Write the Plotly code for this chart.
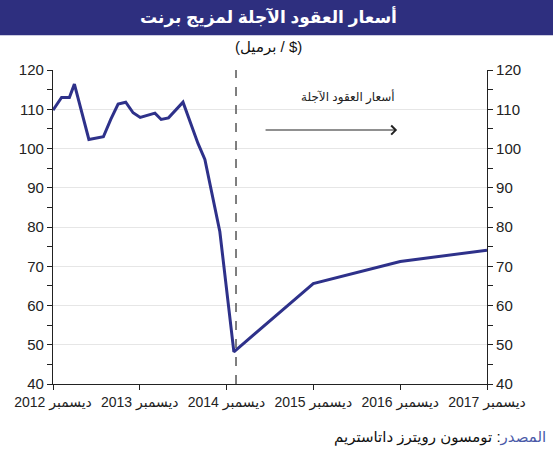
import plotly.graph_objects as go

# ---- data ----
dates = ["2012-12-01", "2013-01-06", "2013-02-08", "2013-03-01", "2013-05-01",
         "2013-07-01", "2013-08-01", "2013-09-01", "2013-10-03", "2013-11-03",
         "2013-12-03", "2014-02-03", "2014-03-01", "2014-04-01", "2014-06-01",
         "2014-08-03", "2014-09-01", "2014-11-03", "2015-01-01", "2015-12-01",
         "2016-12-01", "2017-12-01"]
prices = [109.8, 113.0, 113.0, 116.4, 102.3,
          103.0, 107.4, 111.3, 111.8, 109.1,
          107.9, 109.0, 107.4, 107.8, 111.8,
          101.3, 97.2, 78.8, 48.2, 65.6,
          71.2, 74.1]

tick_dates = ["2012-12-01", "2013-12-01", "2014-12-01", "2015-12-01", "2016-12-01", "2017-12-01"]
tick_text = ["ديسمبر 2012", "ديسمبر 2013", "ديسمبر 2014", "ديسمبر 2015", "ديسمبر 2016", "ديسمبر 2017"]
y_ticks = [40, 50, 60, 70, 80, 90, 100, 110, 120]

title = "أسعار العقود الآجلة لمزيج برنت"
subtitle = "(برميل / $)"
futures_label = "أسعار العقود الآجلة"
source_label = "المصدر"
source_text = ": تومسون رويترز داتاستريم"

forecast_start = "2015-01-10"
arrow_start = "2015-05-08"
arrow_end = "2016-11-18"
arrow_level = 104.7
label_date = "2016-04-25"
label_level = 113.1

NAVY = "#2e2f7f"
LINE = "#2e318a"
FONT = "Liberation Sans, Arial, DejaVu Sans, sans-serif"

fig = go.Figure()
fig.add_trace(go.Scatter(x=dates, y=prices, mode="lines",
                         line=dict(color=LINE, width=3), showlegend=False,
                         hoverinfo="skip"))
# invisible trace on y2 to activate right axis
fig.add_trace(go.Scatter(x=[dates[0]], y=[prices[0]], yaxis="y2", mode="lines",
                         line=dict(width=0), showlegend=False, hoverinfo="skip"))

axis_common = dict(range=[40, 120], tickvals=y_ticks, ticks="outside", ticklen=5,
                   tickcolor="#222", tickwidth=1, showline=True, linecolor="#222",
                   linewidth=1.2, tickfont=dict(family=FONT, size=15, color="#222"),
                   minor=dict(dtick=5, tick0=40, ticks="outside", ticklen=5,
                              tickcolor="#222", showgrid=False),
                   zeroline=False, fixedrange=True)

fig.update_layout(
    width=553, height=450,
    margin=dict(l=53, r=66, t=70, b=66),
    paper_bgcolor="white", plot_bgcolor="white",
    xaxis=dict(type="date", range=[tick_dates[0], tick_dates[-1]],
               tickvals=tick_dates, ticktext=tick_text,
               ticks="outside", ticklen=5, tickcolor="#222",
               showline=True, linecolor="#222", linewidth=1.2, showgrid=False,
               tickfont=dict(family=FONT, size=14, color="#222"),
               zeroline=False),
    yaxis=dict(**axis_common, showgrid=True, gridcolor="#e6e6e6", gridwidth=1),
    yaxis2=dict(**axis_common, overlaying="y", side="right", showgrid=False),
    shapes=[
        dict(type="rect", xref="paper", yref="paper", x0=-0.13, x1=1.16,
             y0=1.111, y1=1.23, fillcolor=NAVY, line=dict(width=0), layer="below"),
        dict(type="line", xref="x", yref="paper", x0=forecast_start, x1=forecast_start,
             y0=0, y1=1, line=dict(color="#555", width=1.5, dash="dash")),
    ],
    annotations=[
        dict(text="<b>" + title + "</b>", xref="paper", yref="paper", x=0.497, y=1.169,
             showarrow=False, font=dict(family=FONT, size=17, color="white"),
             xanchor="center", yanchor="middle"),
        dict(text=subtitle, xref="paper", yref="paper", x=0.497, y=1.073,
             showarrow=False, font=dict(family=FONT, size=15, color="#111"),
             xanchor="center", yanchor="middle"),
        dict(text=futures_label, x=label_date, y=label_level, xref="x", yref="y",
             showarrow=False, font=dict(family=FONT, size=12, color="#222")),
        dict(text="", x=arrow_end, y=arrow_level, ax=arrow_start, ay=arrow_level,
             xref="x", yref="y", axref="x", ayref="y", showarrow=True,
             arrowhead=4, arrowsize=1.6, arrowwidth=1.1, arrowcolor="#222"),
        dict(text='<span style="color:#4a5aa8">' + source_label + '</span>' + source_text,
             xref="paper", yref="paper", x=1.14, y=-0.169, xanchor="right",
             yanchor="middle", showarrow=False,
             font=dict(family=FONT, size=15, color="#111")),
    ],
)

fig.write_html("out.html")
